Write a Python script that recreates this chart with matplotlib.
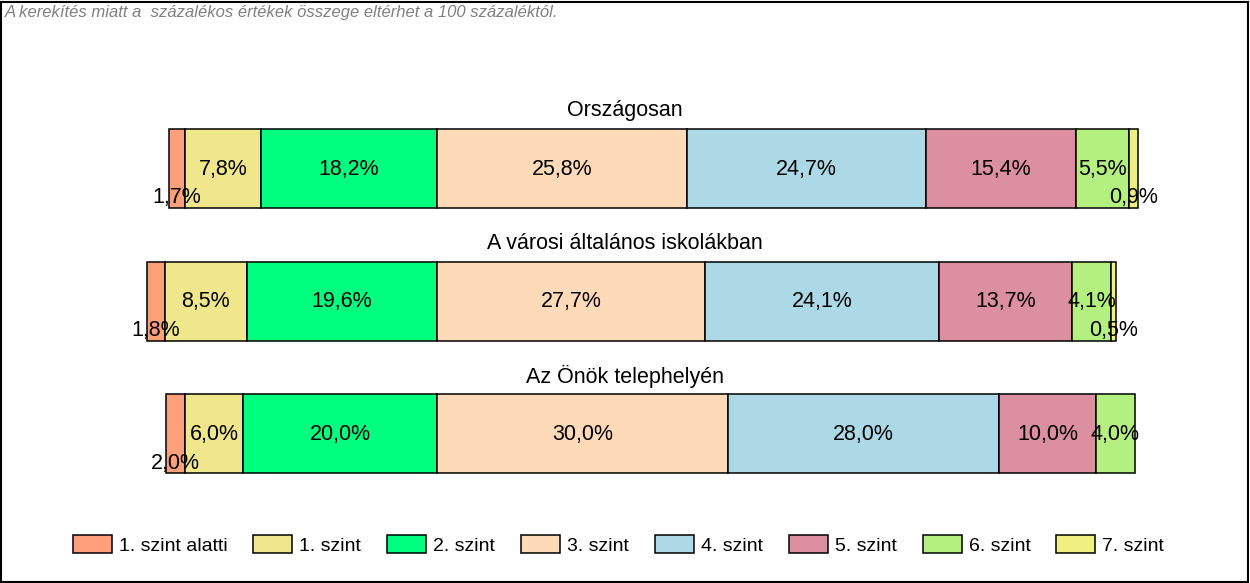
import matplotlib
matplotlib.use("Agg")
import matplotlib.pyplot as plt
import matplotlib.transforms as mtransforms
from matplotlib.patches import Rectangle

plt.rcParams['font.family'] = ['Liberation Sans', 'DejaVu Sans']

groups = ["Országosan", "A városi általános iskolákban", "Az Önök telephelyén"]
levels = ["1. szint alatti", "1. szint", "2. szint", "3. szint",
          "4. szint", "5. szint", "6. szint", "7. szint"]
orszagosan = [1.7, 7.8, 18.2, 25.8, 24.7, 15.4, 5.5, 0.9]
varosi = [1.8, 8.5, 19.6, 27.7, 24.1, 13.7, 4.1, 0.5]
onok = [2.0, 6.0, 20.0, 30.0, 28.0, 10.0, 4.0, 0.0]
series = [orszagosan, varosi, onok]
colors = ["#FFA07A", "#F0E68C", "#00FF7F", "#FFDAB9",
          "#ADD8E6", "#DB8FA0", "#B4F080", "#F0F080"]
note = "A kerekítés miatt a  százalékos értékek összege eltérhet a 100 százaléktól."

W, H = 1250, 583
fig = plt.figure(figsize=(W / 100, H / 100), dpi=100)
ax = fig.add_axes([0, 0, 1, 1])
pxper = 9.69
cx = 437
ax.set_xlim(-cx / pxper, (W - cx) / pxper)
ax.set_ylim(H, 0)
ax.axis('off')

ycent = [168, 301, 433.5]
bh = 79
handles = []
title_tr = mtransforms.blended_transform_factory(fig.transFigure, ax.transData)
for gi, vals in enumerate(series):
    left = -sum(vals[:3])
    y = ycent[gi]
    for li, v in enumerate(vals):
        if v > 0:
            b = ax.barh(y, v, left=left, height=bh, color=colors[li],
                        edgecolor='black', linewidth=1.1)
            if gi == 0:
                handles.append(b)
            lab = f"{v:.1f}".replace('.', ',') + "%"
            ty = y + 1 if v >= 3 else y + bh / 2 - 10
            ax.text(left + v / 2, ty, lab, ha='center', va='center',
                    fontsize=15.5, color='black')
        left += v
    ax.text(0.5, (y - bh / 2 - 18), groups[gi], transform=title_tr,
            ha='center', va='center', fontsize=15.5)

ax.text(5 / pxper - cx / pxper, 13, note, ha='left', va='center',
        fontsize=12, style='italic', color='#808080')

leg = fig.legend(handles, levels, ncol=8, loc='center',
                 bbox_to_anchor=(618.5 / W, 1 - 545 / H), frameon=False,
                 fontsize=14, handlelength=2.0, handleheight=1.0,
                 handletextpad=0.36, columnspacing=1.34)

fig.add_artist(Rectangle((0.001, 0.002), 0.997, 0.995, transform=fig.transFigure,
                         fill=False, edgecolor='black', linewidth=1.5))
fig.savefig("out.png", dpi=100)
